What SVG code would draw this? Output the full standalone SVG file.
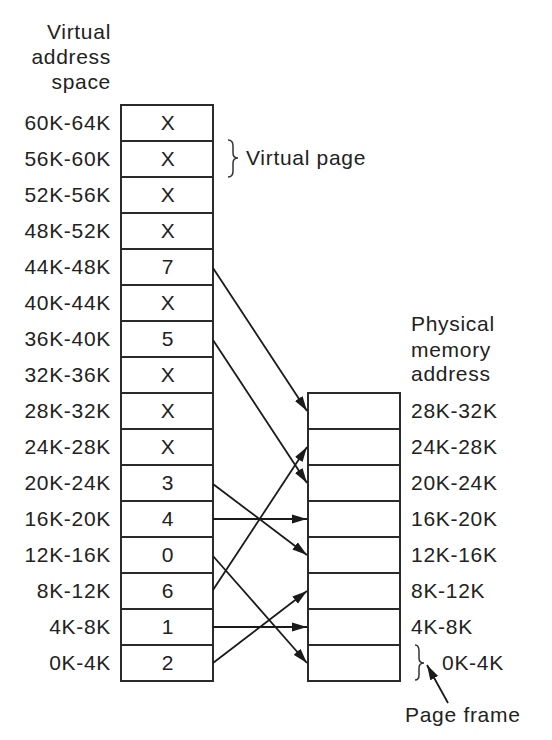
<svg xmlns="http://www.w3.org/2000/svg" width="552" height="740" viewBox="0 0 552 740">
<style>
text{font-family:"Liberation Sans",Arial,sans-serif;font-size:21px;fill:#222;letter-spacing:0.7px}
.lbl{text-anchor:end}
.val{text-anchor:middle}
.cell{fill:#fff;stroke:#2a2a2a;stroke-width:2}
.conn{stroke:#1a1a1a;stroke-width:1.8;fill:none}
.brace{stroke:#333;stroke-width:1.5;fill:none}
</style>
<defs>
<marker id="ah" markerUnits="userSpaceOnUse" markerWidth="16" markerHeight="10" refX="15" refY="5" orient="auto">
<path d="M0,0.5 L15,5 L0,9.5 z" fill="#1a1a1a"/>
</marker>
</defs>
<rect width="552" height="740" fill="#fff"/>
<g id="vtitle">
<text class="lbl" x="111" y="39">Virtual</text>
<text class="lbl" x="111" y="64">address</text>
<text class="lbl" x="111" y="89">space</text>
</g>
<g id="ptitle">
<text x="411" y="331">Physical</text>
<text x="411" y="357">memory</text>
<text x="411" y="381">address</text>
</g>
<g id="v60"><rect class="cell" x="121" y="105" width="92" height="36"/><text class="lbl" x="111" y="130">60K-64K</text><text class="val" x="168" y="130">X</text></g>
<g id="v56"><rect class="cell" x="121" y="141" width="92" height="36"/><text class="lbl" x="111" y="166">56K-60K</text><text class="val" x="168" y="166">X</text></g>
<g id="v52"><rect class="cell" x="121" y="177" width="92" height="36"/><text class="lbl" x="111" y="202">52K-56K</text><text class="val" x="168" y="202">X</text></g>
<g id="v48"><rect class="cell" x="121" y="213" width="92" height="36"/><text class="lbl" x="111" y="238">48K-52K</text><text class="val" x="168" y="238">X</text></g>
<g id="v44"><rect class="cell" x="121" y="249" width="92" height="36"/><text class="lbl" x="111" y="274">44K-48K</text><text class="val" x="168" y="274">7</text></g>
<g id="v40"><rect class="cell" x="121" y="285" width="92" height="36"/><text class="lbl" x="111" y="310">40K-44K</text><text class="val" x="168" y="310">X</text></g>
<g id="v36"><rect class="cell" x="121" y="321" width="92" height="36"/><text class="lbl" x="111" y="346">36K-40K</text><text class="val" x="168" y="346">5</text></g>
<g id="v32"><rect class="cell" x="121" y="357" width="92" height="36"/><text class="lbl" x="111" y="382">32K-36K</text><text class="val" x="168" y="382">X</text></g>
<g id="v28"><rect class="cell" x="121" y="393" width="92" height="36"/><text class="lbl" x="111" y="418">28K-32K</text><text class="val" x="168" y="418">X</text></g>
<g id="v24"><rect class="cell" x="121" y="429" width="92" height="36"/><text class="lbl" x="111" y="454">24K-28K</text><text class="val" x="168" y="454">X</text></g>
<g id="v20"><rect class="cell" x="121" y="465" width="92" height="36"/><text class="lbl" x="111" y="490">20K-24K</text><text class="val" x="168" y="490">3</text></g>
<g id="v16"><rect class="cell" x="121" y="501" width="92" height="36"/><text class="lbl" x="111" y="526">16K-20K</text><text class="val" x="168" y="526">4</text></g>
<g id="v12"><rect class="cell" x="121" y="537" width="92" height="36"/><text class="lbl" x="111" y="562">12K-16K</text><text class="val" x="168" y="562">0</text></g>
<g id="v8"><rect class="cell" x="121" y="573" width="92" height="36"/><text class="lbl" x="111" y="598">8K-12K</text><text class="val" x="168" y="598">6</text></g>
<g id="v4"><rect class="cell" x="121" y="609" width="92" height="36"/><text class="lbl" x="111" y="634">4K-8K</text><text class="val" x="168" y="634">1</text></g>
<g id="v0"><rect class="cell" x="121" y="645" width="92" height="36"/><text class="lbl" x="111" y="670">0K-4K</text><text class="val" x="168" y="670">2</text></g>
<g id="p7"><rect class="cell" x="308" y="393" width="92" height="36"/><text x="411" y="418">28K-32K</text></g>
<g id="p6"><rect class="cell" x="308" y="429" width="92" height="36"/><text x="411" y="454">24K-28K</text></g>
<g id="p5"><rect class="cell" x="308" y="465" width="92" height="36"/><text x="411" y="490">20K-24K</text></g>
<g id="p4"><rect class="cell" x="308" y="501" width="92" height="36"/><text x="411" y="526">16K-20K</text></g>
<g id="p3"><rect class="cell" x="308" y="537" width="92" height="36"/><text x="411" y="562">12K-16K</text></g>
<g id="p2"><rect class="cell" x="308" y="573" width="92" height="36"/><text x="411" y="598">8K-12K</text></g>
<g id="p1"><rect class="cell" x="308" y="609" width="92" height="36"/><text x="411" y="634">4K-8K</text></g>
<g id="p0"><rect class="cell" x="308" y="645" width="92" height="36"/><text x="442" y="670">0K-4K</text></g>
<g id="vpage">
<path class="brace" d="M228,140 Q233,140 233,146 L233,153 Q233,158 238,158 Q233,158 233,163 L233,171 Q233,177 228,177"/>
<text x="246" y="165">Virtual page</text>
</g>
<g id="pframe">
<path class="brace" d="M415,645 Q419,645 419,651 L419,658 Q419,663 424,663 Q419,663 419,668 L419,675 Q419,680 415,680"/>
<text x="405" y="722">Page frame</text>
</g>
<g id="connectors">
<line class="conn" x1="213" y1="268" x2="307" y2="411" marker-end="url(#ah)"/>
<line class="conn" x1="213" y1="340" x2="307" y2="483" marker-end="url(#ah)"/>
<line class="conn" x1="213" y1="484" x2="307" y2="555" marker-end="url(#ah)"/>
<line class="conn" x1="213" y1="519" x2="307" y2="519" marker-end="url(#ah)"/>
<line class="conn" x1="213" y1="556" x2="307" y2="663" marker-end="url(#ah)"/>
<line class="conn" x1="213" y1="590" x2="307" y2="447" marker-end="url(#ah)"/>
<line class="conn" x1="213" y1="627" x2="307" y2="627" marker-end="url(#ah)"/>
<line class="conn" x1="213" y1="663" x2="307" y2="591" marker-end="url(#ah)"/>
<line class="conn" x1="448" y1="703" x2="427" y2="665" marker-end="url(#ah)"/>
</g>
</svg>
